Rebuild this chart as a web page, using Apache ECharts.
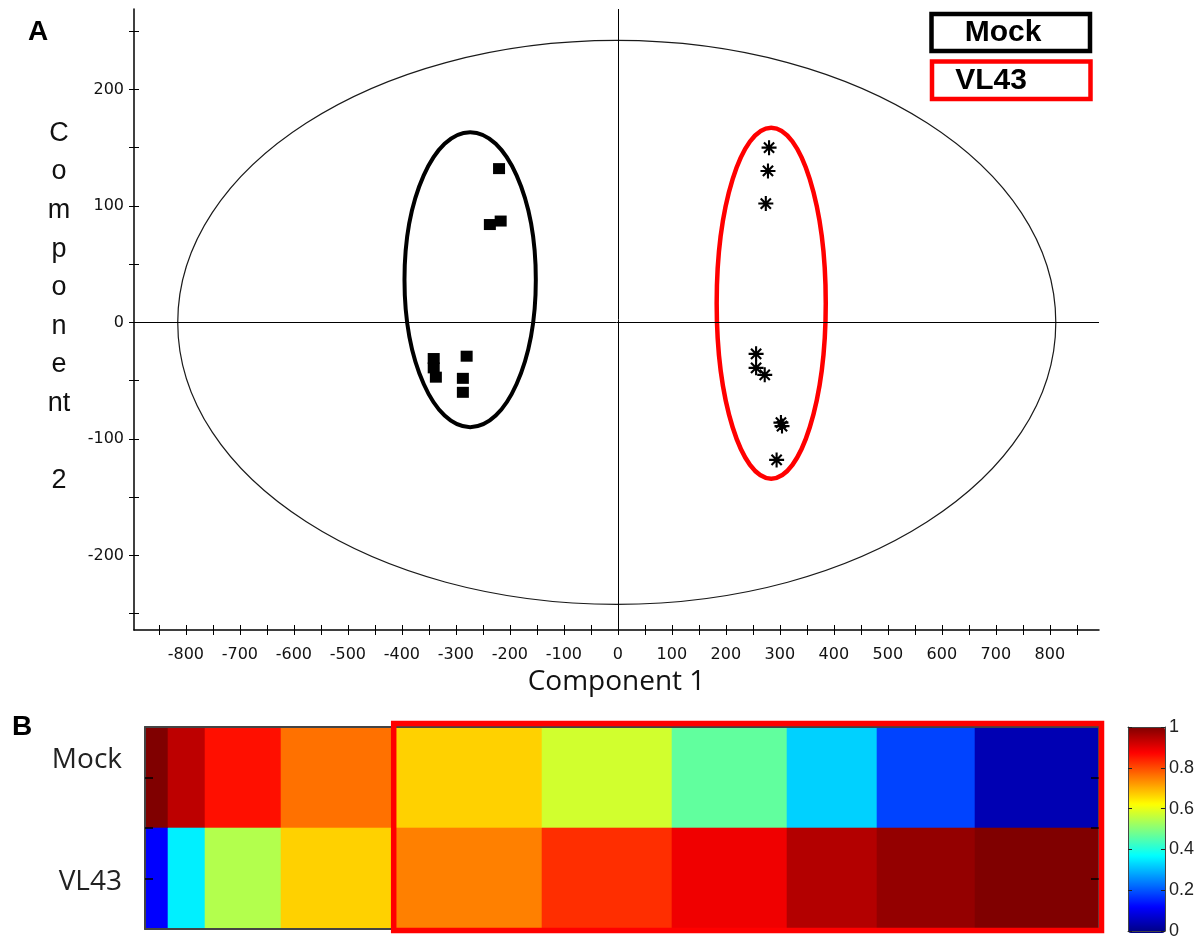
<!DOCTYPE html>
<html><head><meta charset="utf-8">
<script src="https://cdn.jsdelivr.net/npm/echarts@6/dist/echarts.min.js"></script>
<style>html,body{margin:0;padding:0;background:#fff}#chart{width:1197px;height:940px}</style>
</head><body><div id="chart"></div>
<script>
// ---------- Panel A data ----------
const seriesNames = ['Mock', 'VL43'];
const mockPoints = [[-220,132],[-237,84],[-217,87],[-341,-31],[-341,-39],[-337,-47],[-280,-29],[-287,-48],[-287,-60]];
const vl43Points = [[280,150],[278,130],[274,102],[256,-27],[256,-39],[272,-45],[302,-86],[304,-89],[294,-118]];
// ellipses: [centerX, centerY, radiusX, radiusY] in data units
const outerEllipse = [-2, 0, 813, 242];
const mockEllipse = [-273.5, 36.7, 121.6, 126.6];
const vl43Ellipse = [284, 16.5, 101, 150.6];
const xTickValues = [-850,-800,-750,-700,-650,-600,-550,-500,-450,-400,-350,-300,-250,-200,-150,-100,-50,0,50,100,150,200,250,300,350,400,450,500,550,600,650,700,750,800,850];
const xLabelValues = [-800,-700,-600,-500,-400,-300,-200,-100,0,100,200,300,400,500,600,700,800];
const yTickValues = [-250,-200,-150,-100,-50,0,50,100,150,200,250];
const yLabelValues = [-200,-100,0,100,200];
const xTitle = 'Component 1';
const yTitleLines = ['C','o','m','p','o','n','e','nt','','2'];

// ---------- Panel B data ----------
const rowLabels = ['Mock', 'VL43'];
const colEdges = [0, 23, 60, 136, 248, 397, 527, 642, 732, 830, 954];
const mockValues = [1.0, 0.94, 0.86, 0.765, 0.67, 0.58, 0.47, 0.33, 0.19, 0.05];
const vl43Values = [0.125, 0.36, 0.55, 0.67, 0.75, 0.83, 0.89, 0.95, 0.98, 1.0];
const colorbarTicks = [0, 0.2, 0.4, 0.6, 0.8, 1];
const jetColors = ['#000080','#0000FF','#0080FF','#00FFFF','#80FF80','#FFFF00','#FF8000','#FF0000','#800000'];

// ---------- build ----------
const heatCells = [];
[mockValues, vl43Values].forEach((vals, r) => {
  vals.forEach((v, c) => heatCells.push([colEdges[c], colEdges[c + 1], r + 1, v]));
});

const asterisk = 'path://M0 8.6H20V11.4H0Z M8.6 0H11.4V20H8.6Z M2.2 4.2L4.2 2.2L17.8 15.8L15.8 17.8Z M15.8 2.2L17.8 4.2L4.2 17.8L2.2 15.8Z M6.5 6.5H13.5V13.5H6.5Z';

function ellipseSeries(e, color, width) {
  return {
    type: 'custom', xAxisIndex: 0, yAxisIndex: 0, silent: true, z: 3,
    data: [e],
    encode: { x: 0, y: 1 },
    renderItem: function (params, api) {
      const c = api.coord([api.value(0), api.value(1)]);
      const s = api.size([api.value(2), api.value(3)]);
      return { type: 'ellipse', shape: { cx: c[0], cy: c[1], rx: s[0], ry: s[1] },
        style: { fill: 'none', stroke: color, lineWidth: width } };
    }
  };
}

const tickFont = { fontFamily: 'DejaVu Sans', fontSize: 16, color: '#111' };

const option = {
  animation: false,
  backgroundColor: '#fff',
  grid: [
    { left: 134, top: 9, width: 965, height: 621 },
    { left: 145, top: 727, width: 954, height: 202 },
    { left: 1128, top: 727, width: 37, height: 206 }
  ],
  xAxis: [
    { gridIndex: 0, type: 'value', min: -896, max: 891, position: 'bottom',
      axisLine: { onZero: false, lineStyle: { color: '#000', width: 1.5 } },
      axisTick: { show: true, customValues: xTickValues, length: 5, lineStyle: { color: '#000', width: 1 } },
      axisLabel: Object.assign({ customValues: xLabelValues, margin: 17 }, tickFont),
      splitLine: { show: false },
      name: xTitle, nameLocation: 'middle', nameGap: 38,
      nameTextStyle: { fontFamily: 'Open Sans', fontSize: 28, color: '#111' } },
    { gridIndex: 0, type: 'value', min: -896, max: 891, position: 'bottom',
      axisLine: { show: false, onZero: false },
      axisTick: { show: true, inside: true, customValues: xTickValues, length: 5, lineStyle: { color: '#000', width: 1 } },
      axisLabel: { show: false }, splitLine: { show: false } },
    { gridIndex: 1, type: 'value', min: 0, max: 954, position: 'bottom', z: 10,
      axisLine: { onZero: false, lineStyle: { color: '#444', width: 2 } },
      axisTick: { show: false }, axisLabel: { show: false }, splitLine: { show: false } },
    { gridIndex: 1, type: 'value', min: 0, max: 954, position: 'top', z: 10,
      axisLine: { onZero: false, lineStyle: { color: '#444', width: 2 } },
      axisTick: { show: false }, axisLabel: { show: false }, splitLine: { show: false } },
    { gridIndex: 2, type: 'value', min: 0, max: 1, position: 'bottom', z: 10,
      axisLine: { onZero: false, lineStyle: { color: '#444', width: 1 } },
      axisTick: { show: false }, axisLabel: { show: false }, splitLine: { show: false } },
    { gridIndex: 2, type: 'value', min: 0, max: 1, position: 'top', z: 10,
      axisLine: { onZero: false, lineStyle: { color: '#444', width: 1 } },
      axisTick: { show: false }, axisLabel: { show: false }, splitLine: { show: false } }
  ],
  yAxis: [
    { gridIndex: 0, type: 'value', min: -264, max: 269, position: 'left',
      axisLine: { show: true, onZero: false, lineStyle: { color: '#000', width: 1.5 } },
      axisTick: { show: true, customValues: yTickValues, length: 5, lineStyle: { color: '#000', width: 1 } },
      axisLabel: Object.assign({ customValues: yLabelValues, margin: 10 }, tickFont),
      splitLine: { show: false } },
    { gridIndex: 0, type: 'value', min: -264, max: 269, position: 'left',
      axisLine: { show: false, onZero: false },
      axisTick: { show: true, inside: true, customValues: yTickValues, length: 5, lineStyle: { color: '#000', width: 1 } },
      axisLabel: { show: false }, splitLine: { show: false } },
    { gridIndex: 1, type: 'value', min: 0.5, max: 2.5, inverse: true, position: 'left', z: 10,
      axisLine: { show: true, onZero: false, lineStyle: { color: '#444', width: 2 } },
      axisTick: { show: true, inside: true, customValues: [1, 1.5, 2], length: 8, lineStyle: { color: '#000', width: 1.5 } },
      axisLabel: { customValues: [1, 2], margin: 23,
        formatter: function (v) { return v === 1 ? '{a|' + rowLabels[0] + '}' : '{b|' + rowLabels[1] + '}'; },
        rich: {
          a: { fontFamily: 'Open Sans', fontSize: 28, color: '#222', padding: [0, 0, 34, 0] },
          b: { fontFamily: 'Open Sans', fontSize: 28, color: '#222', padding: [8, 0, 0, 0] }
        } },
      splitLine: { show: false } },
    { gridIndex: 1, type: 'value', min: 0.5, max: 2.5, inverse: true, position: 'right', z: 10,
      axisLine: { show: true, onZero: false, lineStyle: { color: '#444', width: 2 } },
      axisTick: { show: true, inside: true, customValues: [1, 1.5, 2], length: 8, lineStyle: { color: '#000', width: 1.5 } },
      axisLabel: { show: false }, splitLine: { show: false } },
    { gridIndex: 2, type: 'value', min: 0, max: 1, interval: 0.2, position: 'right', z: 10,
      axisLine: { show: true, onZero: false, lineStyle: { color: '#444', width: 1 } },
      axisTick: { show: true, inside: true, length: 4, lineStyle: { color: '#222', width: 1 } },
      axisLabel: { margin: 4, fontFamily: 'Liberation Sans', fontSize: 18, color: '#222',
        formatter: function (v) { return String(Math.round(v * 10) / 10); } },
      splitLine: { show: false } },
    { gridIndex: 2, type: 'value', min: 0, max: 1, interval: 0.2, position: 'left', z: 10,
      axisLine: { show: true, onZero: false, lineStyle: { color: '#444', width: 1 } },
      axisTick: { show: true, inside: true, length: 4, lineStyle: { color: '#222', width: 1 } },
      axisLabel: { show: false }, splitLine: { show: false } }
  ],
  visualMap: {
    type: 'continuous', seriesIndex: 5, dimension: 3, min: 0, max: 1,
    inRange: { color: jetColors },
    left: 1128, top: 727, itemWidth: 37, itemHeight: 206, padding: 0,
    calculable: false, hoverLink: false, orient: 'vertical'
  },
  series: [
    Object.assign(ellipseSeries(outerEllipse, '#1a1a1a', 1.2), {
      markLine: { silent: true, symbol: ['none', 'none'], label: { show: false },
        lineStyle: { color: '#000', width: 1, type: 'solid' },
        data: [{ xAxis: 0 }, { yAxis: 0 }] }
    }),
    ellipseSeries(mockEllipse, '#000000', 4),
    ellipseSeries(vl43Ellipse, '#FF0000', 4.5),
    { type: 'scatter', name: seriesNames[0], xAxisIndex: 0, yAxisIndex: 0, data: mockPoints,
      symbol: 'rect', symbolSize: [12, 11], itemStyle: { color: '#000', opacity: 1 }, z: 5 },
    { type: 'scatter', name: seriesNames[1], xAxisIndex: 0, yAxisIndex: 0, data: vl43Points,
      symbol: asterisk, symbolSize: 15, itemStyle: { color: '#000', opacity: 1 }, z: 5 },
    { type: 'custom', name: 'heat', xAxisIndex: 2, yAxisIndex: 2, data: heatCells,
      encode: { x: [0, 1], y: 2 }, silent: true,
      renderItem: function (params, api) {
        const p0 = api.coord([api.value(0), api.value(2) - 0.5]);
        const p1 = api.coord([api.value(1), api.value(2) + 0.5]);
        const col = api.visual('color');
        return { type: 'rect',
          shape: { x: p0[0], y: Math.min(p0[1], p1[1]), width: p1[0] - p0[0], height: Math.abs(p1[1] - p0[1]) },
          style: { fill: col, stroke: col, lineWidth: 0.6 } };
      } }
  ],
  graphic: [
    { type: 'text', left: 28, top: 18, style: { text: 'A', font: 'bold 28px "Liberation Sans"', fill: '#000' } },
    { type: 'text', left: 12, top: 713, style: { text: 'B', font: 'bold 28px "Liberation Sans"', fill: '#000' } },
    { type: 'text', x: 59, y: 307, style: { text: yTitleLines.join('\n'), font: '27px "Liberation Sans"', fill: '#111',
        align: 'center', verticalAlign: 'middle', lineHeight: 38.6 } },
    { type: 'rect', shape: { x: 931.5, y: 14, width: 158.5, height: 37 }, style: { fill: '#fff', stroke: '#000', lineWidth: 4.5 }, z: 20 },
    { type: 'text', x: 1003, y: 33, style: { text: seriesNames[0], font: 'bold 30px "Liberation Sans"', fill: '#000', align: 'center', verticalAlign: 'middle' }, z: 21 },
    { type: 'rect', shape: { x: 932, y: 61.5, width: 158.5, height: 37.5 }, style: { fill: '#fff', stroke: '#FF0000', lineWidth: 4.5 }, z: 20 },
    { type: 'text', x: 991, y: 80.5, style: { text: seriesNames[1], font: 'bold 30px "Liberation Sans"', fill: '#000', align: 'center', verticalAlign: 'middle' }, z: 21 },
    { type: 'rect', shape: { x: 393.7, y: 723.5, width: 707.8, height: 207 }, style: { fill: 'none', stroke: '#FF0000', lineWidth: 5.5 }, z: 30 }
  ]
};

const chart = echarts.init(document.getElementById('chart'), null, { renderer: 'canvas' });
chart.setOption(option);
</script>
</body></html>
